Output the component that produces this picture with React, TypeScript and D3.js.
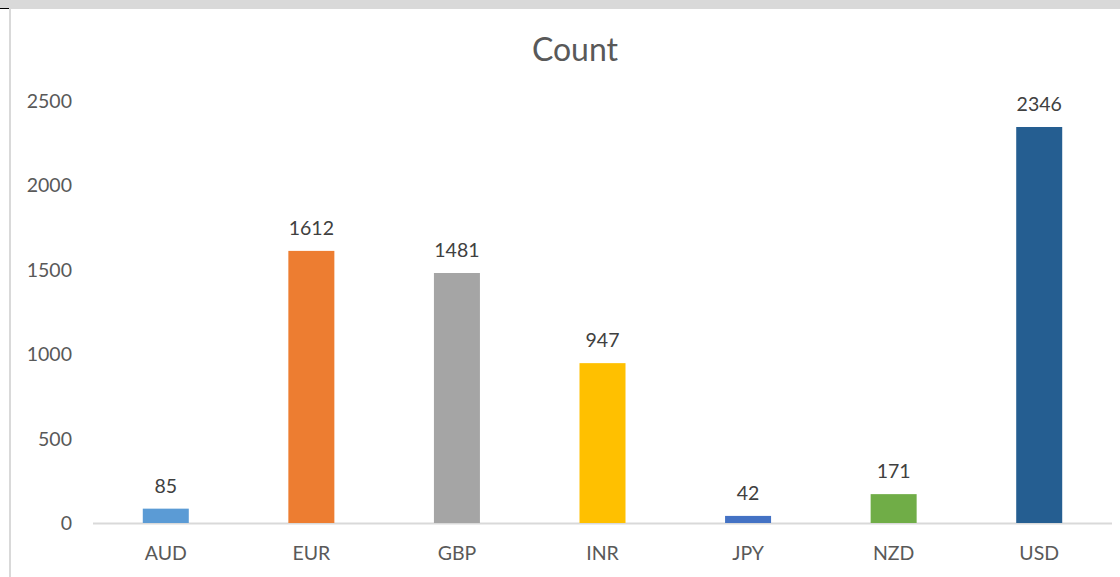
import React from 'react'
import * as d3 from 'd3'

const categories = ['AUD', 'EUR', 'GBP', 'INR', 'JPY', 'NZD', 'USD']
const counts = [85, 1612, 1481, 947, 42, 171, 2346]
const barColors = ['#5B9BD5', '#ED7D31', '#A5A5A5', '#FFC000', '#4472C4', '#70AD47', '#255E91']
const yTicks = [0, 500, 1000, 1500, 2000, 2500]

const width = 1120
const height = 577
const font = 'Lato, "Open Sans", sans-serif'

export default function App() {
    const x = d3.scaleBand<string>()
        .domain(categories)
        .range([93, 1112])
        .paddingInner(0.684)
        .paddingOuter(0.342)

    const y = d3.scaleLinear()
        .domain([0, 2500])
        .range([523, 101])

    return (
        <div style={{ position: 'absolute', left: 0, top: 0 }}>
            <svg width={width} height={height} style={{ display: 'block', background: '#fff' }}>
                {/* window chrome round the chart */}
                <rect x={0} y={0} width={width} height={9} fill="#d9d9d9" />
                <line x1={10} y1={9} x2={10} y2={height} stroke="#d9d9d9" strokeWidth={2} />
                <line x1={0} y1={8.5} x2={9} y2={8.5} stroke="#000" strokeWidth={1} />

                <text x={575} y={61} textAnchor="middle" fontFamily={font} fontSize={32} fill="#595959">Count</text>

                {yTicks.map(t => (
                    <text key={`yt-${t}`} x={72} y={y(t) + 7} textAnchor="end"
                          fontFamily={font} fontSize={19.5} fill="#595959">{t}</text>
                ))}

                <line x1={93} y1={y(0) + 0.5} x2={1112} y2={y(0) + 0.5} stroke="#d9d9d9" strokeWidth={2} />

                {categories.map((c, i) => (
                    <g key={`bar-${c}`}>
                        <rect x={x(c)} y={y(counts[i])} width={x.bandwidth()} height={y(0) - y(counts[i])}
                              fill={barColors[i]} />
                        <text x={(x(c) as number) + x.bandwidth() / 2} y={y(counts[i]) - 16} textAnchor="middle"
                              fontFamily={font} fontSize={19.5} fill="#404040">{counts[i]}</text>
                        <text x={(x(c) as number) + x.bandwidth() / 2} y={560} textAnchor="middle"
                              fontFamily={font} fontSize={19.5} fill="#595959">{c}</text>
                    </g>
                ))}
            </svg>
        </div>
    )
}
